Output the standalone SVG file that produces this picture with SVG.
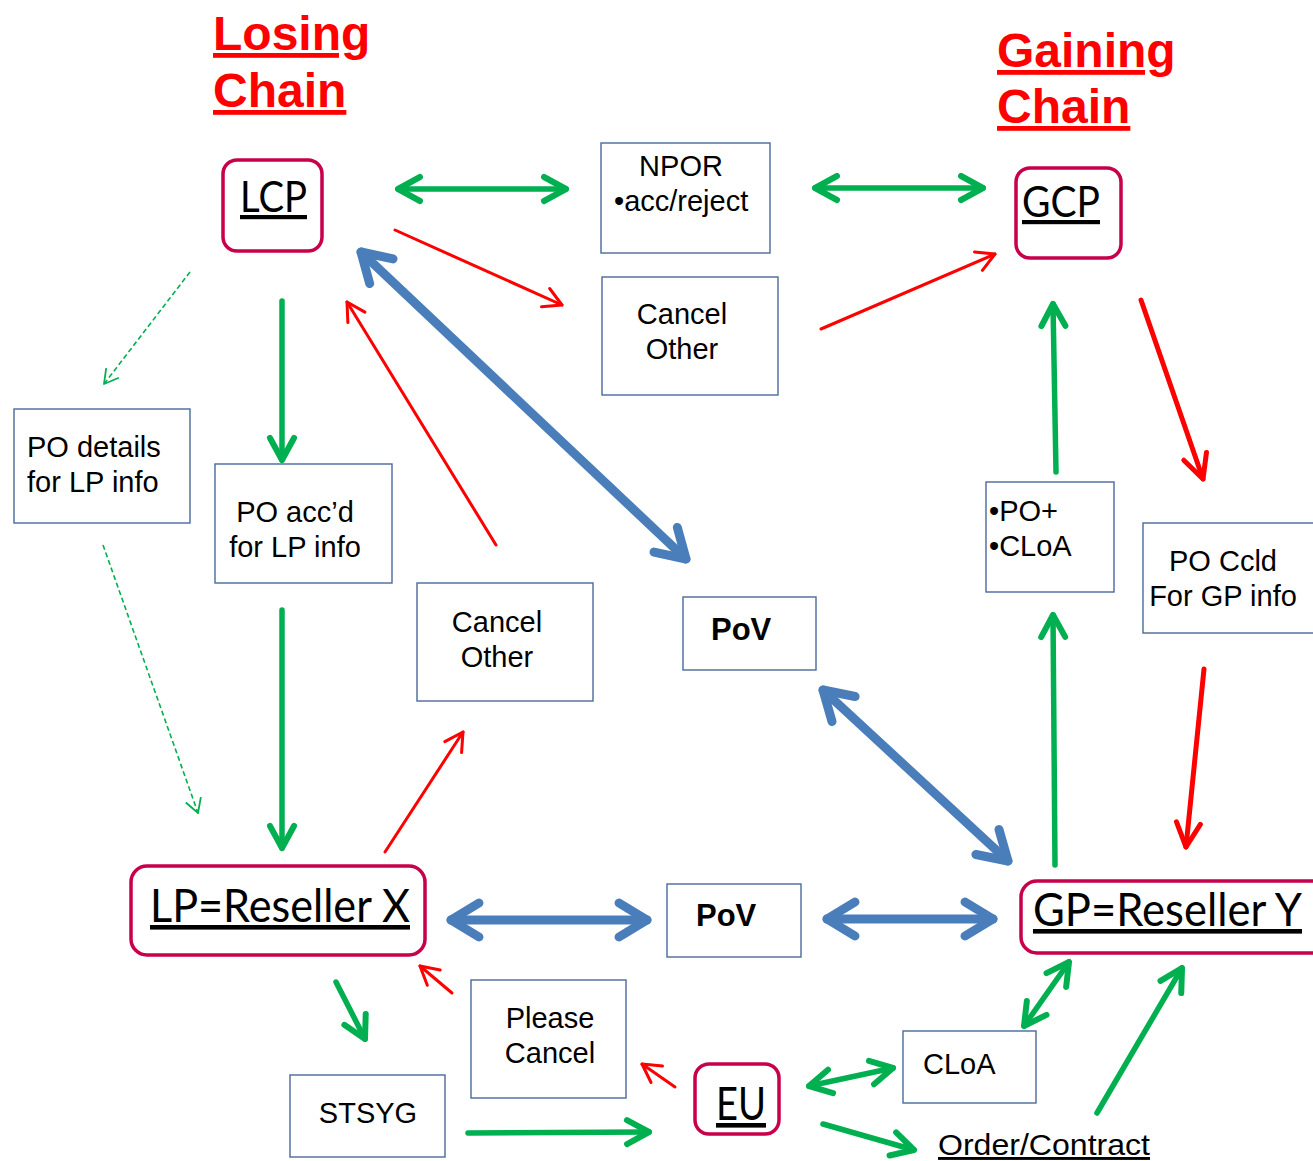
<svg xmlns="http://www.w3.org/2000/svg" width="1313" height="1161" viewBox="0 0 1313 1161">
<style>
  .box{fill:#fff;stroke:#4A6A9A;stroke-width:1.4}
  .rbox{fill:#fff;stroke:#C8004B;stroke-width:3.5}
  .t{font-family:"Liberation Sans",Arial,sans-serif;font-size:29px;fill:#000}
  .tb{font-family:"Liberation Sans",Arial,sans-serif;font-size:31px;font-weight:bold;fill:#000}
  .c{font-family:Lato,"Open Sans",sans-serif;fill:#000;text-decoration:underline}
  .title{font-family:"Liberation Sans",Arial,sans-serif;font-size:48px;font-weight:bold;fill:#FF0000;text-decoration:underline}
  .g{stroke:#00B050;stroke-width:5.5;fill:none;stroke-linecap:round}
  .gd{stroke:#00B050;stroke-width:1.6;fill:none;stroke-dasharray:5 3}
  .r{stroke:#FF0000;stroke-width:3;fill:none;stroke-linecap:round}
  .rt{stroke:#FF0000;stroke-width:5;fill:none;stroke-linecap:round}
  .b{stroke:#4A7EBB;stroke-width:9;fill:none;stroke-linecap:round}
</style>
<defs>
  <marker id="gh" markerUnits="userSpaceOnUse" orient="auto-start-reverse" viewBox="-40 -30 50 60" markerWidth="50" markerHeight="60" refX="0" refY="0" overflow="visible">
    <path d="M-22,-12 L0,0 L-22,12" fill="none" stroke="#00B050" stroke-width="6" stroke-linecap="round" stroke-linejoin="round"/>
  </marker>
  <marker id="gs" markerUnits="userSpaceOnUse" orient="auto-start-reverse" viewBox="-40 -30 50 60" markerWidth="50" markerHeight="60" refX="0" refY="0" overflow="visible">
    <path d="M-14,-8 L0,0 L-14,8" fill="none" stroke="#00B050" stroke-width="1.8" stroke-linejoin="round"/>
  </marker>
  <marker id="rh" markerUnits="userSpaceOnUse" orient="auto-start-reverse" viewBox="-40 -30 50 60" markerWidth="50" markerHeight="60" refX="0" refY="0" overflow="visible">
    <path d="M-18,-10 L0,0 L-18,10" fill="none" stroke="#FF0000" stroke-width="3" stroke-linecap="round" stroke-linejoin="round"/>
  </marker>
  <marker id="rth" markerUnits="userSpaceOnUse" orient="auto-start-reverse" viewBox="-40 -30 50 60" markerWidth="50" markerHeight="60" refX="0" refY="0" overflow="visible">
    <path d="M-24,-12 L0,0 L-24,12" fill="none" stroke="#FF0000" stroke-width="5" stroke-linecap="round" stroke-linejoin="round"/>
  </marker>
  <marker id="bh" markerUnits="userSpaceOnUse" orient="auto-start-reverse" viewBox="-40 -30 50 60" markerWidth="50" markerHeight="60" refX="0" refY="0" overflow="visible">
    <path d="M-28,-17 L0,0 L-28,17" fill="none" stroke="#4A7EBB" stroke-width="9" stroke-linecap="round" stroke-linejoin="round"/>
  </marker>
</defs>
<rect width="1313" height="1161" fill="#fff"/>

<g id="titles">
  <text class="title" x="213" y="50">Losing</text>
  <text class="title" x="213" y="107">Chain</text>
  <text class="title" x="997" y="67">Gaining</text>
  <text class="title" x="997" y="123">Chain</text>
</g>

<g id="connectors">
  <line class="g" x1="398" y1="189" x2="566" y2="189" marker-start="url(#gh)" marker-end="url(#gh)"/>
  <line class="g" x1="815" y1="188" x2="983" y2="188" marker-start="url(#gh)" marker-end="url(#gh)"/>
  <line class="r" x1="395" y1="230" x2="562" y2="305" marker-end="url(#rh)"/>
  <line class="r" x1="821" y1="329" x2="995" y2="254" marker-end="url(#rh)"/>
  <line class="b" x1="361" y1="252" x2="686" y2="559" marker-start="url(#bh)" marker-end="url(#bh)"/>
  <line class="r" x1="496" y1="545" x2="347" y2="302" marker-end="url(#rh)"/>
  <line class="gd" x1="190" y1="272" x2="104" y2="384" marker-end="url(#gs)"/>
  <line class="gd" x1="103" y1="545" x2="198" y2="813" marker-end="url(#gs)"/>
  <line class="g" x1="282" y1="301" x2="282" y2="460" marker-end="url(#gh)"/>
  <line class="g" x1="282" y1="610" x2="282" y2="848" marker-end="url(#gh)"/>
  <line class="r" x1="385" y1="852" x2="463" y2="732" marker-end="url(#rh)"/>
  <line class="b" x1="823" y1="690" x2="1008" y2="861" marker-start="url(#bh)" marker-end="url(#bh)"/>
  <line class="b" x1="451" y1="920" x2="647" y2="920" marker-start="url(#bh)" marker-end="url(#bh)"/>
  <line class="b" x1="827" y1="919" x2="993" y2="919" marker-start="url(#bh)" marker-end="url(#bh)"/>
  <line class="g" x1="1055" y1="865" x2="1053" y2="615" marker-end="url(#gh)"/>
  <line class="g" x1="1056" y1="472" x2="1053" y2="304" marker-end="url(#gh)"/>
  <line class="rt" x1="1141" y1="300" x2="1203" y2="479" marker-end="url(#rth)"/>
  <line class="rt" x1="1204" y1="669" x2="1186" y2="847" marker-end="url(#rth)"/>
  <line class="g" x1="336" y1="982" x2="365" y2="1039" marker-end="url(#gh)"/>
  <line class="r" x1="452" y1="993" x2="420" y2="966" marker-end="url(#rh)"/>
  <line class="g" x1="468" y1="1133" x2="649" y2="1132" marker-end="url(#gh)"/>
  <line class="r" x1="675" y1="1087" x2="642" y2="1064" marker-end="url(#rh)"/>
  <line class="g" x1="809" y1="1086" x2="893" y2="1068" marker-start="url(#gh)" marker-end="url(#gh)"/>
  <line class="g" x1="823" y1="1124" x2="914" y2="1150" marker-end="url(#gh)"/>
  <line class="g" x1="1097" y1="1113" x2="1182" y2="968" marker-end="url(#gh)"/>
  <line class="g" x1="1024" y1="1026" x2="1069" y2="962" marker-start="url(#gh)" marker-end="url(#gh)"/>
</g>

<g id="lcp">
  <rect class="rbox" x="223" y="160" width="99" height="91" rx="14"/>
  <text class="c" x="240" y="212" font-size="42" textLength="67" lengthAdjust="spacingAndGlyphs">LCP</text>
</g>
<g id="gcp">
  <rect class="rbox" x="1016" y="168" width="105" height="90" rx="14"/>
  <text class="c" x="1022" y="217" font-size="42" textLength="78" lengthAdjust="spacingAndGlyphs">GCP</text>
</g>
<g id="npor">
  <rect class="box" x="601" y="143" width="169" height="110"/>
  <text class="t" x="681" y="176" text-anchor="middle">NPOR</text>
  <text class="t" x="614" y="211">•acc/reject</text>
</g>
<g id="cancel-other-top">
  <rect class="box" x="602" y="277" width="176" height="118"/>
  <text class="t" x="682" y="324" text-anchor="middle">Cancel</text>
  <text class="t" x="682" y="359" text-anchor="middle">Other</text>
</g>
<g id="po-details">
  <rect class="box" x="14" y="409" width="176" height="114"/>
  <text class="t" x="27" y="457">PO details</text>
  <text class="t" x="27" y="492">for LP info</text>
</g>
<g id="po-accd">
  <rect class="box" x="215" y="464" width="177" height="119"/>
  <text class="t" x="295" y="522" text-anchor="middle">PO acc’d</text>
  <text class="t" x="295" y="557" text-anchor="middle">for LP info</text>
</g>
<g id="cancel-other-mid">
  <rect class="box" x="417" y="583" width="176" height="118"/>
  <text class="t" x="497" y="632" text-anchor="middle">Cancel</text>
  <text class="t" x="497" y="667" text-anchor="middle">Other</text>
</g>
<g id="pov-upper">
  <rect class="box" x="683" y="597" width="133" height="73"/>
  <text class="tb" x="711" y="640">PoV</text>
</g>
<g id="po-cloa">
  <rect class="box" x="986" y="482" width="128" height="110"/>
  <text class="t" x="989" y="521">•PO+</text>
  <text class="t" x="989" y="556">•CLoA</text>
</g>
<g id="po-ccld">
  <rect class="box" x="1143" y="523" width="180" height="110"/>
  <text class="t" x="1223" y="571" text-anchor="middle">PO Ccld</text>
  <text class="t" x="1223" y="606" text-anchor="middle">For GP info</text>
</g>
<g id="lp">
  <rect class="rbox" x="131" y="866" width="294" height="89" rx="16"/>
  <text class="c" x="150" y="922" font-size="46" textLength="260" lengthAdjust="spacingAndGlyphs">LP=Reseller X</text>
</g>
<g id="pov-lower">
  <rect class="box" x="667" y="884" width="134" height="73"/>
  <text class="tb" x="696" y="926">PoV</text>
</g>
<g id="gp">
  <rect class="rbox" x="1021" y="881" width="310" height="72" rx="16"/>
  <text class="c" x="1033" y="926" font-size="46" textLength="269" lengthAdjust="spacingAndGlyphs">GP=Reseller Y</text>
</g>
<g id="please-cancel">
  <rect class="box" x="471" y="980" width="155" height="118"/>
  <text class="t" x="550" y="1028" text-anchor="middle">Please</text>
  <text class="t" x="550" y="1063" text-anchor="middle">Cancel</text>
</g>
<g id="stsyg">
  <rect class="box" x="290" y="1075" width="155" height="82"/>
  <text class="t" x="368" y="1123" text-anchor="middle">STSYG</text>
</g>
<g id="eu">
  <rect class="rbox" x="695" y="1064" width="84" height="70" rx="14"/>
  <text class="c" x="716" y="1120" font-size="46" textLength="50" lengthAdjust="spacingAndGlyphs">EU</text>
</g>
<g id="cloa">
  <rect class="box" x="903" y="1031" width="133" height="72"/>
  <text class="t" x="923" y="1074" font-size="31">CLoA</text>
</g>
<g id="order-contract">
  <text class="t" x="938" y="1155" font-size="32" textLength="212" lengthAdjust="spacingAndGlyphs" text-decoration="underline">Order/Contract</text>
</g>
</svg>
